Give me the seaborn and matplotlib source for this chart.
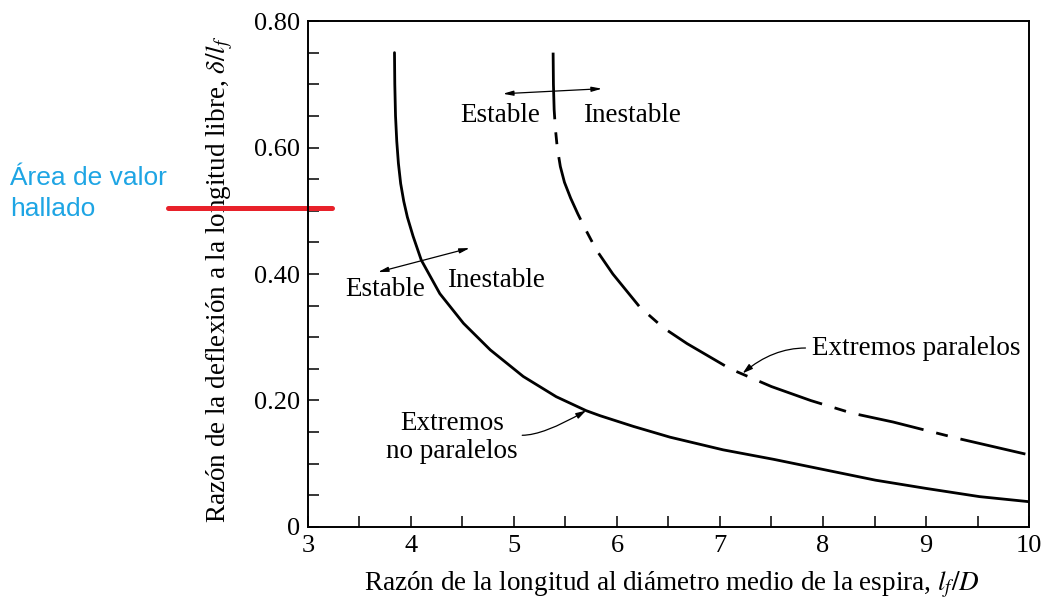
import numpy as np
import pandas as pd
import matplotlib
matplotlib.use("Agg")
import matplotlib.pyplot as plt
import seaborn as sns

# Curva de extremos no paralelos (continua)
x_no_paralelos = [3.84, 3.843, 3.85, 3.862, 3.878, 3.90, 3.93, 3.965, 4.02,
                  4.10, 4.28, 4.51, 4.77, 5.09, 5.41, 5.70, 5.835, 6.16, 6.515,
                  7.03, 7.52, 8.03, 8.51, 9.0, 9.52, 10.0]
y_no_paralelos = [0.75, 0.70, 0.65, 0.61, 0.575, 0.543, 0.515, 0.49, 0.46,
                  0.422, 0.369, 0.322, 0.28, 0.238, 0.206, 0.184, 0.176, 0.159,
                  0.142, 0.122, 0.107, 0.09, 0.074, 0.061, 0.048, 0.040]

# Curva de extremos paralelos (discontinua)
x_paralelos = [5.38, 5.383, 5.39, 5.402, 5.42, 5.45, 5.49, 5.55, 5.62, 5.69,
               5.80, 5.96, 6.22, 6.45, 6.68, 7.10, 7.50, 7.88, 8.28, 8.68,
               9.31, 10.0]
y_paralelos = [0.75, 0.70, 0.66, 0.63, 0.60, 0.57, 0.545, 0.52, 0.495, 0.472,
               0.438, 0.40, 0.348, 0.315, 0.29, 0.25, 0.222, 0.20, 0.18, 0.166,
               0.14, 0.114]

x_ticks = [3, 4, 5, 6, 7, 8, 9, 10]
y_ticks = [0, 0.2, 0.4, 0.6, 0.8]
y_ticklabels = ["0", "0.20", "0.40", "0.60", "0.80"]

# línea roja del valor hallado
red_x = [1.64, 3.23]
red_y = [0.505, 0.505]

sns.set_theme(style="ticks")
plt.rcParams["font.family"] = ["Liberation Serif", "DejaVu Serif"]
plt.rcParams["mathtext.fontset"] = "stix"
plt.rcParams["text.color"] = "black"
plt.rcParams["axes.labelcolor"] = "black"

fig = plt.figure(figsize=(10.45, 6.04), dpi=100)
ax = fig.add_axes([0.2947, 0.1275, 0.690, 0.8377])

df_np = pd.DataFrame({"x": x_no_paralelos, "y": y_no_paralelos})
df_p = pd.DataFrame({"x": x_paralelos, "y": y_paralelos})

sns.lineplot(data=df_np, x="x", y="y", sort=False, estimator=None,
             color="black", lw=2.0, ax=ax)
sns.lineplot(data=df_p, x="x", y="y", sort=False, estimator=None,
             color="black", lw=2.0, linestyle=(0, (24, 4.7, 4.3, 4.7)), ax=ax)

ax.set_xlim(3, 10)
ax.set_ylim(0, 0.8)
ax.set_xticks(x_ticks)
ax.set_xticks(np.arange(3.5, 10, 1), minor=True)
ax.set_yticks(y_ticks)
ax.set_yticklabels(y_ticklabels)
ax.set_yticks([0.05, 0.1, 0.15, 0.25, 0.3, 0.35, 0.45, 0.5, 0.55, 0.65, 0.7, 0.75], minor=True)
ax.tick_params(which="both", direction="in", length=8, width=1.1, top=False,
               right=False, colors="black", labelsize=19, pad=5.5)
for s in ax.spines.values():
    s.set_color("black")
    s.set_linewidth(1.4)

ax.set_xlabel("Razón de la longitud al diámetro medio de la espira, $l_f/D$",
              fontsize=19.5)
ax.xaxis.set_label_coords(0.505, -0.085)
ax.set_ylabel("Razón de la deflexión a la longitud libre, $\\delta/l_f$",
              fontsize=19.5)
ax.yaxis.set_label_coords(-0.101, 0.49)

fs = 19.5
arrow2 = dict(arrowstyle="<|-|>,head_length=0.5,head_width=0.12",
              color="black", lw=0.9, shrinkA=0, shrinkB=0)
# Estable / Inestable (arriba)
ax.text(5.25, 0.65, "Estable", ha="right", va="center", fontsize=fs)
ax.text(5.67, 0.65, "Inestable", ha="left", va="center", fontsize=fs)
ax.annotate("", xy=(5.854, 0.693), xytext=(4.893, 0.685), arrowprops=arrow2)
# Estable / Inestable (abajo)
ax.text(3.75, 0.375, "Estable", ha="center", va="center", fontsize=fs)
ax.text(4.83, 0.389, "Inestable", ha="center", va="center", fontsize=fs)
ax.annotate("", xy=(4.57, 0.441), xytext=(3.68, 0.403), arrowprops=arrow2)

# Extremos no paralelos
ax.text(4.40, 0.142, "Extremos\nno paralelos", ha="center", va="center",
        fontsize=fs, linespacing=1.15)
ax.annotate("", xy=(5.70, 0.184), xytext=(5.08, 0.145),
            arrowprops=dict(arrowstyle="-|>,head_length=0.5,head_width=0.15",
                            color="black", lw=0.9, shrinkA=0, shrinkB=0,
                            connectionstyle="angle3,angleA=0,angleB=30"))

# Extremos paralelos
ax.text(7.89, 0.283, "Extremos paralelos", ha="left", va="center", fontsize=fs)
ax.annotate("", xy=(7.22, 0.243), xytext=(7.83, 0.283),
            arrowprops=dict(arrowstyle="-|>,head_length=0.5,head_width=0.15",
                            color="black", lw=0.9, shrinkA=0, shrinkB=0,
                            connectionstyle="angle3,angleA=0,angleB=40"))

ax.plot(red_x, red_y, color="#e8212a", lw=3.6, clip_on=False,
        solid_capstyle="round")

fig.text(10 / 1045, 0.68, "Área de valor\nhallado", color="#1ea5e4",
         fontsize=19, family="Liberation Sans", ha="left", va="center",
         linespacing=1.35)

fig.savefig("out.png", dpi=100)
